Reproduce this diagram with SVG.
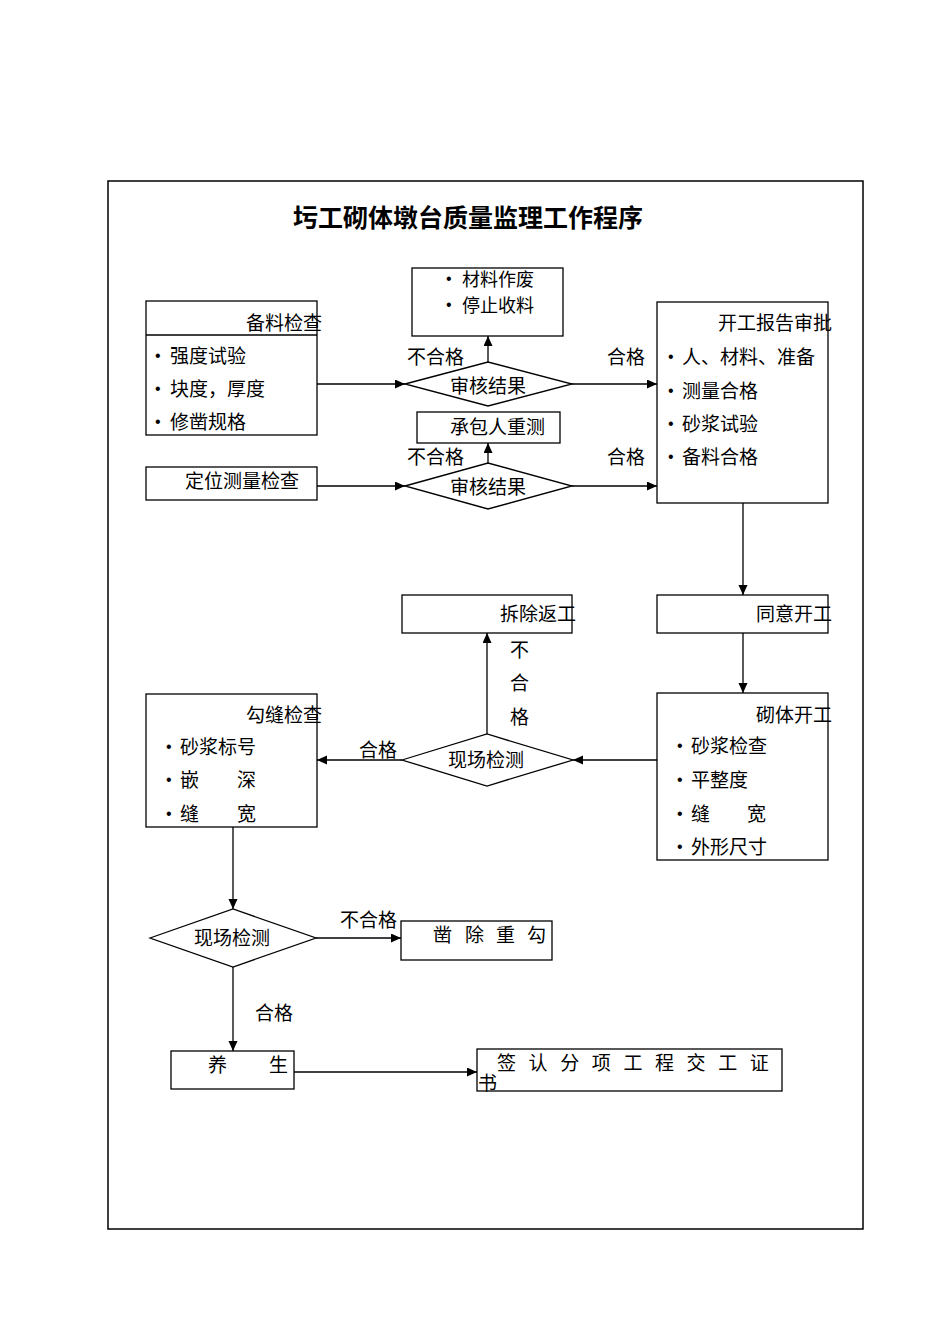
<svg xmlns="http://www.w3.org/2000/svg" width="950" height="1344" viewBox="0 0 950 1344">
<style>
.box{fill:#fff;stroke:#000;stroke-width:1.3}
.frame{fill:none;stroke:#000;stroke-width:1.5}
.t{font-family:"Noto Sans CJK SC","Noto Sans CJK JP",sans-serif;font-size:19px;fill:#000}
.s{font-size:18px}
.title{font-family:"Noto Sans CJK SC","Noto Sans CJK JP",sans-serif;font-size:25px;font-weight:bold;fill:#000}
.b{font-family:"Liberation Sans",sans-serif;font-size:16px;fill:#000}
.c{fill:none;stroke:#000;stroke-width:1.3;marker-end:url(#ah)}
.e{text-anchor:end}
.m{text-anchor:middle}
</style>
<defs>
<marker id="ah" markerUnits="userSpaceOnUse" markerWidth="11" markerHeight="10" refX="10" refY="4.5" orient="auto">
<path d="M0,0 L10,4.5 L0,9 z" fill="#000"/>
</marker>
</defs>
<rect class="frame" x="108" y="181" width="755" height="1048"/>
<text class="title m" x="468" y="227">圬工砌体墩台质量监理工作程序</text>

<g id="connectors">
<line class="c" x1="317" y1="384" x2="405" y2="384"/>
<line class="c" x1="488" y1="362" x2="488" y2="336"/>
<line class="c" x1="572" y1="384" x2="657" y2="384"/>
<line class="c" x1="317" y1="486" x2="405" y2="486"/>
<line class="c" x1="488" y1="463" x2="488" y2="443"/>
<line class="c" x1="572" y1="486" x2="657" y2="486"/>
<line class="c" x1="743" y1="503" x2="743" y2="595"/>
<line class="c" x1="743" y1="633" x2="743" y2="693"/>
<line class="c" x1="657" y1="760" x2="573" y2="760"/>
<line class="c" x1="487" y1="734" x2="487" y2="633"/>
<line class="c" x1="402" y1="760" x2="317" y2="760"/>
<line class="c" x1="233" y1="827" x2="233" y2="909"/>
<line class="c" x1="316" y1="938" x2="401" y2="938"/>
<line class="c" x1="233" y1="967" x2="233" y2="1051"/>
<line class="c" x1="294" y1="1072" x2="477" y2="1072"/>
<text class="t" x="407" y="364">不合格</text>
<text class="t" x="607" y="364">合格</text>
<text class="t" x="407" y="464">不合格</text>
<text class="t" x="607" y="464">合格</text>
<text class="t" x="510" y="657">不</text>
<text class="t" x="510" y="690">合</text>
<text class="t" x="510" y="724">格</text>
<text class="t" x="359" y="757">合格</text>
<text class="t" x="340" y="927">不合格</text>
<text class="t" x="255" y="1020">合格</text>
</g>

<g id="n-beiliao">
<rect class="box" x="146" y="301" width="171" height="134"/>
<line x1="146" y1="335" x2="317" y2="335" stroke="#000" stroke-width="1.3"/>
<text class="t e" x="322" y="330">备料检查</text>
<text class="b" x="155" y="361">•</text><text class="t" x="170" y="363">强度试验</text>
<text class="b" x="155" y="394">•</text><text class="t" x="170" y="396">块度，厚度</text>
<text class="b" x="155" y="427">•</text><text class="t" x="170" y="429">修凿规格</text>
</g>

<g id="n-zuofei">
<rect class="box" x="412" y="268" width="151" height="68"/>
<text class="b" x="446" y="284">•</text><text class="t s" x="462" y="286">材料作废</text>
<text class="b" x="446" y="310">•</text><text class="t s" x="462" y="312">停止收料</text>
</g>

<g id="d-shenhe1">
<polygon class="box" points="405,384 488,362 572,384 488,406"/>
<text class="t m" x="488" y="393">审核结果</text>
</g>

<g id="n-chongce">
<rect class="box" x="417" y="412" width="143" height="31"/>
<text class="t" x="450" y="434">承包人重测</text>
</g>

<g id="d-shenhe2">
<polygon class="box" points="405,486 488,463 572,486 488,509"/>
<text class="t m" x="488" y="494">审核结果</text>
</g>

<g id="n-dingwei">
<rect class="box" x="146" y="467" width="171" height="33"/>
<text class="t" x="185" y="488">定位测量检查</text>
</g>

<g id="n-kaigong">
<rect class="box" x="657" y="302" width="171" height="201"/>
<text class="t e" x="832" y="330">开工报告审批</text>
<text class="b" x="668" y="362">•</text><text class="t" x="682" y="364">人、材料、准备</text>
<text class="b" x="668" y="396">•</text><text class="t" x="682" y="398">测量合格</text>
<text class="b" x="668" y="429">•</text><text class="t" x="682" y="431">砂浆试验</text>
<text class="b" x="668" y="462">•</text><text class="t" x="682" y="464">备料合格</text>
</g>

<g id="n-tongyi">
<rect class="box" x="657" y="595" width="171" height="38"/>
<text class="t e" x="832" y="621">同意开工</text>
</g>

<g id="n-chaichu">
<rect class="box" x="402" y="595" width="170" height="38"/>
<text class="t e" x="576" y="621">拆除返工</text>
</g>

<g id="n-qiti">
<rect class="box" x="657" y="693" width="171" height="167"/>
<text class="t e" x="832" y="722">砌体开工</text>
<text class="b" x="677" y="751">•</text><text class="t" x="691" y="753">砂浆检查</text>
<text class="b" x="677" y="785">•</text><text class="t" x="691" y="787">平整度</text>
<text class="b" x="677" y="819">•</text><text class="t" x="691 747" y="821">缝宽</text>
<text class="b" x="677" y="852">•</text><text class="t" x="691" y="854">外形尺寸</text>
</g>

<g id="d-xianchang1">
<polygon class="box" points="402,760 487,734 573,760 487,786"/>
<text class="t m" x="486" y="767">现场检测</text>
</g>

<g id="n-goufeng">
<rect class="box" x="146" y="694" width="171" height="133"/>
<text class="t e" x="322" y="722">勾缝检查</text>
<text class="b" x="166" y="752">•</text><text class="t" x="180" y="754">砂浆标号</text>
<text class="b" x="166" y="785">•</text><text class="t" x="180 237" y="787">嵌深</text>
<text class="b" x="166" y="819">•</text><text class="t" x="180 237" y="821">缝宽</text>
</g>

<g id="d-xianchang2">
<polygon class="box" points="150,938 233,909 316,938 233,967"/>
<text class="t m" x="232" y="945">现场检测</text>
</g>

<g id="n-zaochu">
<rect class="box" x="401" y="921" width="151" height="39"/>
<text class="t" x="433 465 496 527" y="942">凿除重勾</text>
</g>

<g id="n-yangsheng">
<rect class="box" x="171" y="1051" width="123" height="38"/>
<text class="t" x="208 269" y="1072">养生</text>
</g>

<g id="n-qianren">
<rect class="box" x="477" y="1049" width="305" height="42"/>
<text class="t" x="497 528.6 560.2 591.8 623.4 655 686.6 718.2 749.8" y="1070">签认分项工程交工证</text>
<text class="t" x="478" y="1090">书</text>
</g>
</svg>
